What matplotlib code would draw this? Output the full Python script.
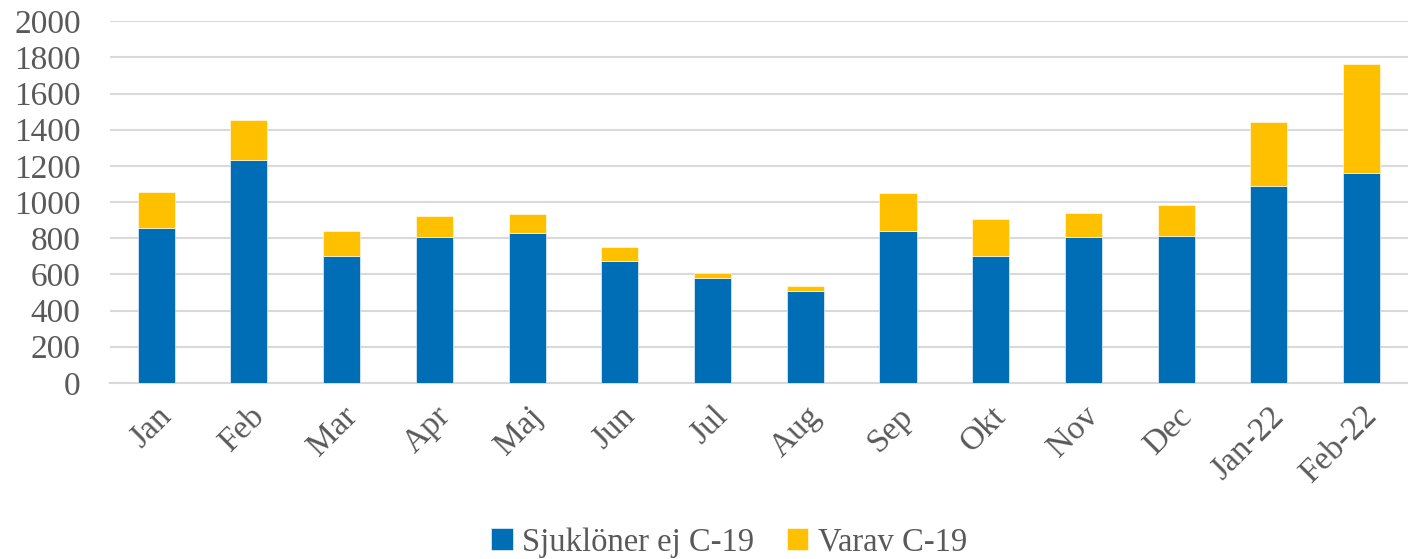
import numpy as np
import matplotlib
matplotlib.use("Agg")
import matplotlib.pyplot as plt

# monthly values
months = ['Jan', 'Feb', 'Mar', 'Apr', 'Maj', 'Jun', 'Jul', 'Aug', 'Sep', 'Okt',
          'Nov', 'Dec', 'Jan-22', 'Feb-22']
ej_c19 = [857, 1231, 702, 805, 828, 673, 579, 509, 840, 702, 809, 813, 1091, 1159]
varav_c19 = [197, 221, 138, 120, 106, 77, 27, 25, 211, 205, 133, 169, 352, 603]
yticks = [0, 200, 400, 600, 800, 1000, 1200, 1400, 1600, 1800, 2000]

blue = '#006eb6'
yellow = '#ffc000'
grey = '#595959'

plt.rcParams['font.family'] = ['Liberation Serif', 'DejaVu Serif']

fig = plt.figure(figsize=(14.08, 5.59), dpi=100)
ax = fig.add_axes([0.078, 0.315, 0.922, 0.647])

x = np.arange(len(months))
ax.bar(x, ej_c19, width=0.4, color=blue, edgecolor='white', linewidth=0.4,
       label='Sjuklöner ej C-19', zorder=3)
ax.bar(x, varav_c19, width=0.4, bottom=ej_c19, color=yellow, edgecolor='white',
       linewidth=0.4, label='Varav C-19', zorder=3)

ax.set_xlim(-0.5, len(months) - 0.5)
ax.set_ylim(0, 2000)
ax.set_yticks(yticks)
ax.set_yticklabels([str(v) for v in yticks], fontsize=24, color=grey)
ax.set_xticks(x)
ax.set_xticklabels(months, rotation=45, ha='right', rotation_mode='anchor',
                   fontsize=24, color=grey)
ax.tick_params(axis='both', length=0)
ax.tick_params(axis='x', pad=13)
ax.tick_params(axis='y', pad=21)

ax.grid(axis='y', color='#d9d9d9', linewidth=1.5, zorder=0)
for s in ['top', 'right', 'left']:
    ax.spines[s].set_visible(False)
ax.spines['bottom'].set_color('#d9d9d9')
ax.spines['bottom'].set_linewidth(1.5)

leg = fig.legend(loc='lower center', bbox_to_anchor=(0.518, -0.05), ncol=2,
                 frameon=False, fontsize=23.5, handlelength=0.65, handleheight=0.65,
                 handletextpad=0.3, columnspacing=1.0)
for t in leg.get_texts():
    t.set_color(grey)

fig.savefig('out.png', dpi=100)
